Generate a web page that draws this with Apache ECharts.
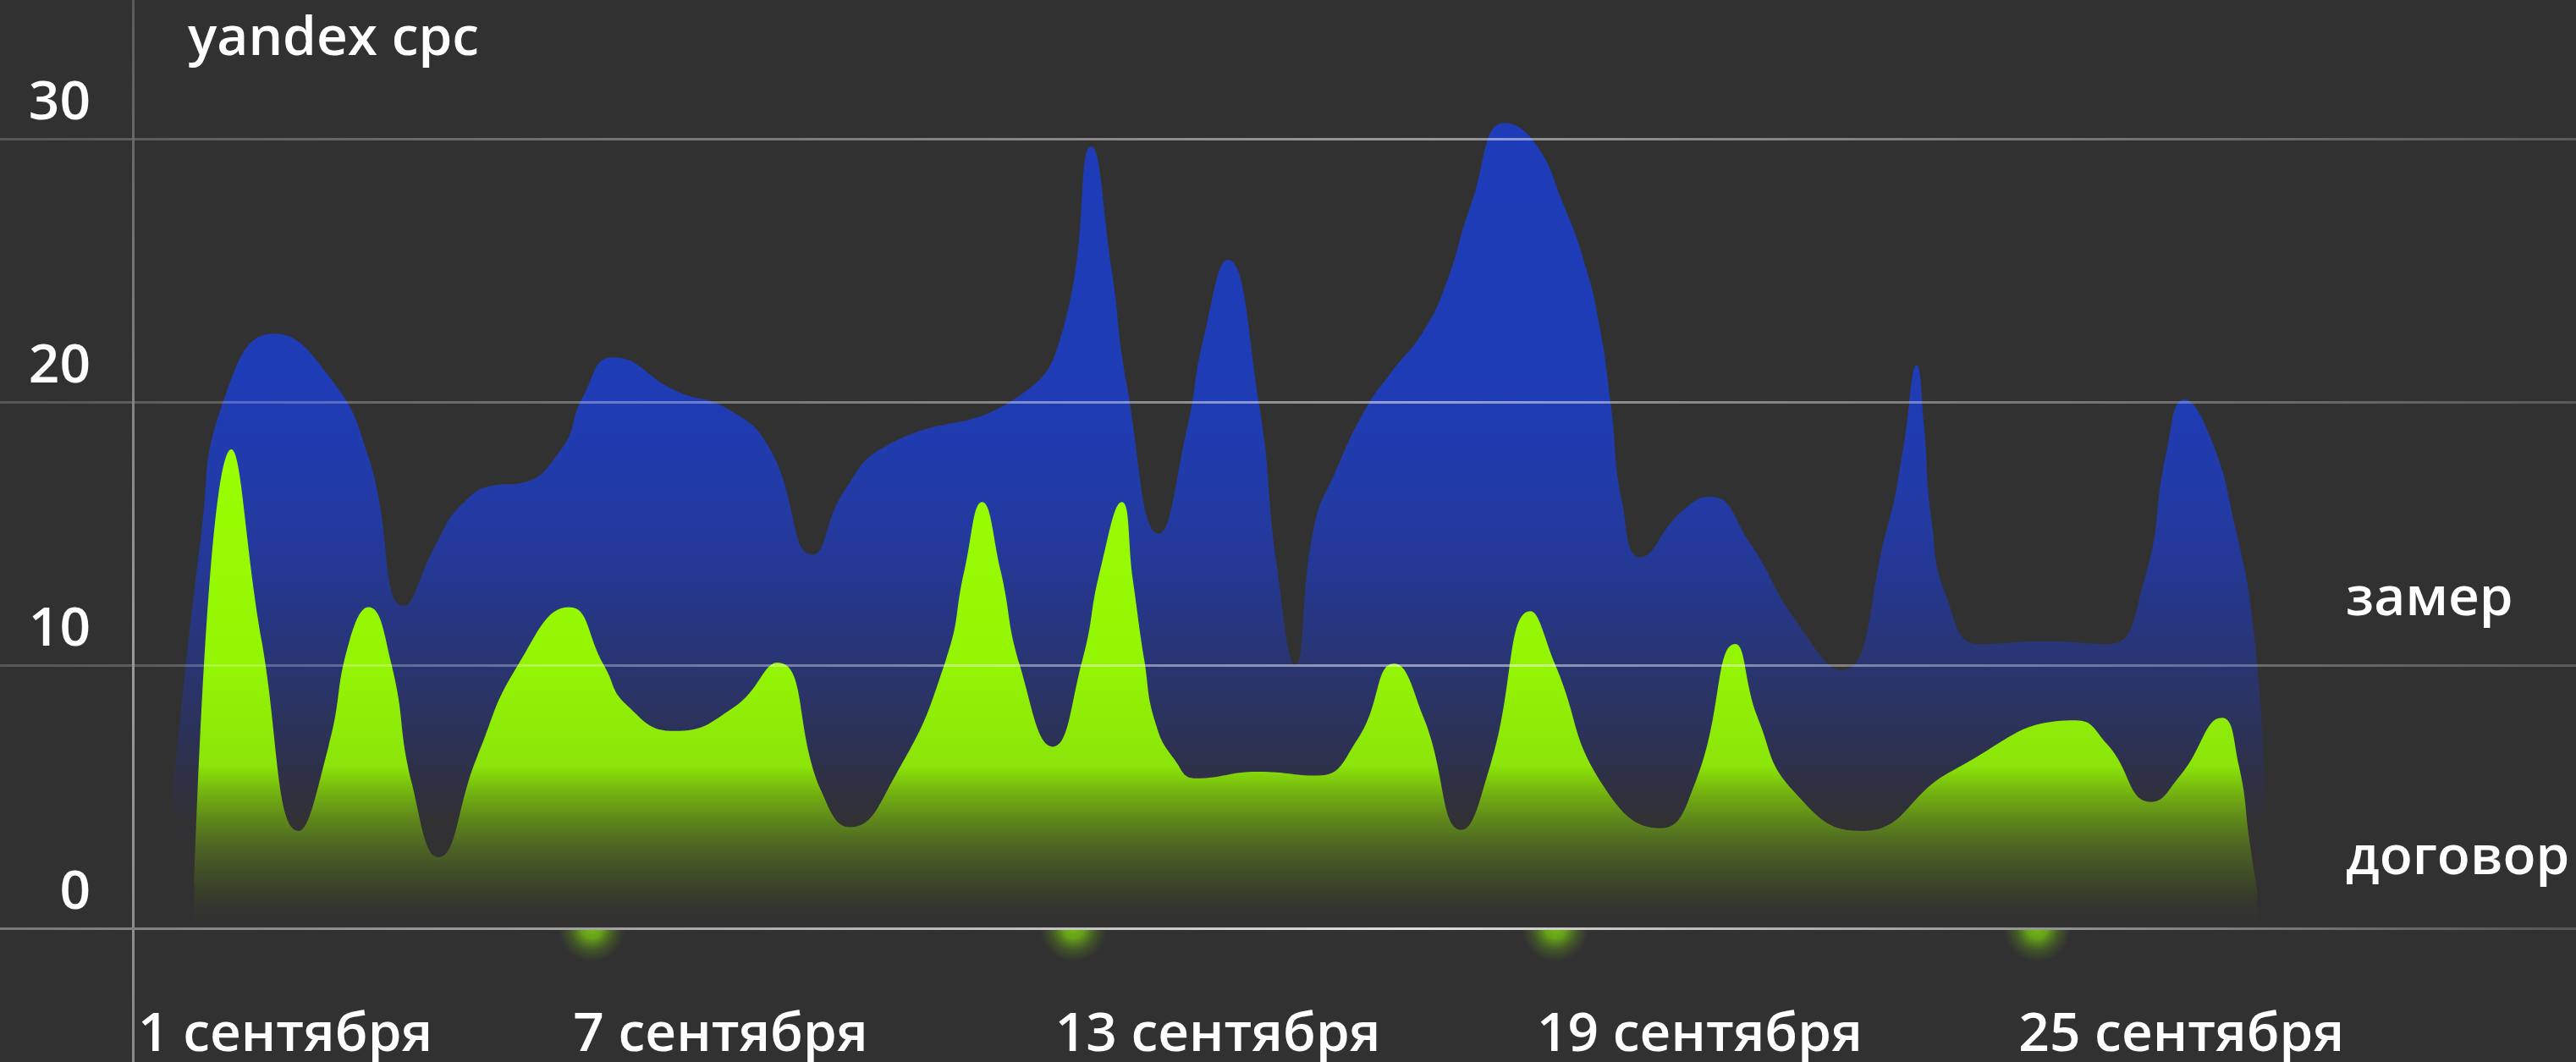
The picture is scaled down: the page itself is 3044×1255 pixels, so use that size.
<!DOCTYPE html>
<html>
<head>
<meta charset="utf-8">
<script src="https://cdn.jsdelivr.net/npm/echarts@6/dist/echarts.min.js"></script>
<style>
html,body{margin:0;padding:0;background:#313131;}
#chart{width:3044px;height:1255px;}
</style>
</head>
<body>
<div id="chart"></div>
<script>
// ---- data ----
const seriesNames = ['замер', 'договор'];
const titleText = 'yandex cpc';

// замер (blue) — x in days of September, y values
const zamerDays = [1.78, 2.13, 2.42, 3.04, 3.72, 4.22, 4.66, 5.06, 5.38, 5.82, 6.08, 6.62, 6.89, 7.26, 8.06,
  8.71, 9.22, 9.75, 10.14, 10.68, 12.31, 12.88, 13.22, 13.47, 13.66, 14.06, 14.42, 14.61, 14.92,
  15.31, 15.53, 15.76, 15.99, 16.27, 16.63, 16.95, 17.36, 17.64, 17.95, 18.37, 18.73, 19.10, 19.38, 19.56, 19.69, 19.83, 20.06,
  20.56, 20.93, 21.43, 21.97, 22.56, 23.13, 23.33, 23.50, 23.59, 23.68, 23.87, 24.28, 25.10, 25.89, 26.33,
  26.61, 26.83, 27.15, 27.47, 27.70, 27.84];
const zamerValues = [5.0, 14.8, 20.1, 22.6, 21.0, 17.9, 12.25, 14.6, 16.1, 16.85, 16.9, 18.2, 20.2, 21.7, 20.4,
  19.7, 18.2, 14.2, 16.6, 18.35, 20.2, 22.9, 29.7, 25.1, 20.7, 15.0, 19.1, 22.3, 25.4,
  19.9, 13.8, 10.0, 15.2, 17.4, 19.7, 21.1, 22.7, 24.5, 27.5, 30.6, 29.9, 27.5, 25.1, 22.7, 19.9, 16.2, 14.1,
  15.8, 16.4, 14.6, 11.8, 9.8, 15.2, 18.2, 21.4, 19.1, 15.6, 12.6, 10.8, 10.9, 10.8, 13.2,
  18.1, 20.1, 18.7, 15.2, 11.2, 5.2];

// договор (green)
const dogovorDays = [2.05, 2.51, 2.89, 3.35, 3.72, 3.98, 4.22, 4.50, 4.76, 5.09, 5.57, 6.08, 6.72, 7.15, 7.43,
  8.03, 8.77, 9.31, 9.86, 10.22, 10.78, 11.41, 11.64, 11.86, 12.09, 12.33, 12.74, 13.11, 13.33, 13.60, 13.74, 13.88, 14.02, 14.26,
  14.52, 15.30, 16.04, 16.54, 16.99, 17.36, 17.83, 18.19, 18.69, 19.00, 19.60, 20.31, 20.75, 21.24, 21.52, 21.97, 22.81, 23.95, 25.48,
  25.87, 26.42, 26.78, 27.30, 27.51, 27.65, 27.74];
const dogovorValues = [1.7, 18.2, 10.9, 3.7, 6.9, 10.9, 12.2, 10.1, 5.5, 2.7, 6.5, 10.0, 12.2, 10.0, 8.5,
  7.5, 8.4, 10.1, 5.2, 3.84, 5.8, 10.2, 13.6, 16.2, 13.6, 10.0, 6.9, 10.2, 13.6, 16.2, 13.2, 10.2, 7.8, 6.4,
  5.7, 5.95, 5.8, 7.2, 10.06, 8.0, 3.74, 6.2, 12.05, 10.0, 5.4, 3.8, 5.6, 10.8, 8.0, 5.2, 3.7, 6.0, 7.9,
  7.0, 4.8, 5.8, 8.0, 6.2, 3.2, 1.45];

// x tick labels (days) and their text
const xTickDays = [1, 7, 13, 19, 25];
const xTickLabels = ['1 сентября', '7 сентября', '13 сентября', '19 сентября', '25 сентября'];
// glowing markers on the axis
const glowDays = [7, 13, 19, 25];

// ---- chart ----
const FONT = '"Open Sans", sans-serif';
const FS = 64;
const FW = 600;
const chart = echarts.init(document.getElementById('chart'), null, {renderer: 'canvas'});

const zip = (xs, ys) => xs.map((x, i) => [x, ys[i]]);

const hGrad = (a, b, c) => new echarts.graphic.LinearGradient(0, 0, 1, 0, [
  {offset: 0, color: a}, {offset: 0.55, color: b}, {offset: 1, color: c}
]);

const option = {
  backgroundColor: '#313131',
  animation: false,
  title: {
    text: titleText,
    left: 217,
    top: 10,
    textStyle: {color: '#ffffff', fontSize: FS, fontWeight: FW, fontFamily: FONT}
  },
  legend: {
    data: seriesNames,
    orient: 'vertical',
    left: 2762,
    top: 672,
    icon: 'rect',
    itemWidth: 0,
    itemHeight: 63,
    itemGap: 242,
    selectedMode: false,
    textStyle: {color: '#ffffff', fontSize: FS, fontWeight: FW, fontFamily: FONT}
  },
  grid: [
    {left: 0, right: 0, top: 164, bottom: 158, containLabel: false, outerBoundsMode: 'none'},
    {left: 157, right: 0, top: 0, bottom: 0, containLabel: false, outerBoundsMode: 'none'}
  ],
  xAxis: [
    {
      type: 'value',
      gridIndex: 0,
      min: -0.37,
      max: 31.71,
      z: 6,
      axisLine: {
        onZero: false,
        lineStyle: {width: 3, color: hGrad('#777777', '#dddddd', '#555555')}
      },
      axisTick: {show: false},
      splitLine: {show: false},
      axisLabel: {
        customValues: xTickDays,
        align: 'left',
        margin: 95,
        color: '#ffffff',
        fontSize: FS,
        fontFamily: FONT,
        fontWeight: FW,
        formatter: function (v) {
          const i = xTickDays.indexOf(v);
          const t = i >= 0 ? xTickLabels[i] : '';
          return (i === 0 ? '{f|' : '{n|') + t + '}';
        },
        rich: {
          f: {color: '#ffffff', fontSize: FS, fontFamily: FONT, fontWeight: FW, padding: [0, 0, 0, 33]},
          n: {color: '#ffffff', fontSize: FS, fontFamily: FONT, fontWeight: FW, padding: [0, 0, 0, -22]}
        }
      }
    },
    {
      type: 'value',
      gridIndex: 1,
      show: false
    }
  ],
  yAxis: [
    {
      type: 'value',
      gridIndex: 0,
      min: 0,
      max: 30,
      interval: 10,
      offset: -157,
      z: 5,
      axisLine: {show: false, onZero: false},
      axisTick: {show: false},
      splitLine: {
        show: true,
        lineStyle: {width: 3, color: hGrad('rgba(255,255,255,0.18)', 'rgba(255,255,255,0.5)', 'rgba(255,255,255,0.2)')}
      },
      axisLabel: {
        margin: 50,
        verticalAlign: 'bottom',
        padding: [0, 0, 9, 0],
        color: '#ffffff',
        fontSize: FS,
        fontWeight: FW,
        fontFamily: FONT
      }
    },
    {
      type: 'value',
      gridIndex: 1,
      min: 0,
      max: 1,
      z: 5,
      axisLine: {
        show: true,
        onZero: false,
        lineStyle: {
          width: 3,
          color: new echarts.graphic.LinearGradient(0, 0, 0, 1, [
            {offset: 0, color: '#5a5a5a'}, {offset: 0.6, color: '#9a9a9a'}, {offset: 1, color: '#888888'}
          ])
        }
      },
      axisTick: {show: false},
      axisLabel: {show: false},
      splitLine: {show: false}
    }
  ],
  series: [
    {
      name: 'glow',
      type: 'scatter',
      silent: true,
      clip: false,
      z: 1,
      xAxisIndex: 0,
      yAxisIndex: 0,
      data: glowDays.map(d => [d, 0]),
      symbol: 'circle',
      symbolSize: 80,
      itemStyle: {
        color: new echarts.graphic.RadialGradient(0.5, 0.5, 0.5, [
          {offset: 0, color: 'rgba(132,220,12,1)'},
          {offset: 0.3, color: 'rgba(124,208,14,0.88)'},
          {offset: 0.65, color: 'rgba(105,170,20,0.38)'},
          {offset: 1, color: 'rgba(90,140,30,0)'}
        ])
      }
    },
    {
      name: seriesNames[0],
      type: 'line',
      smooth: 0.5,
      showSymbol: false,
      silent: true,
      clip: false,
      z: 2,
      xAxisIndex: 0,
      yAxisIndex: 0,
      data: zip(zamerDays, zamerValues),
      itemStyle: {color: '#1f3cb7'},
      lineStyle: {width: 0},
      areaStyle: {
        opacity: 1,
        color: new echarts.graphic.LinearGradient(0, 0, 0, 1, [
          {offset: 0, color: '#1f3cb8'},
          {offset: 0.314, color: '#1f3cb7'},
          {offset: 0.444, color: '#213ba9'},
          {offset: 0.542, color: '#243897'},
          {offset: 0.673, color: '#293571'},
          {offset: 0.765, color: '#2c3256'},
          {offset: 0.83, color: '#303040'},
          {offset: 0.87, color: '#313133'},
          {offset: 1, color: '#313131'}
        ])
      }
    },
    {
      name: seriesNames[1],
      type: 'line',
      smooth: 0.5,
      showSymbol: false,
      silent: true,
      clip: false,
      z: 3,
      xAxisIndex: 0,
      yAxisIndex: 0,
      data: zip(dogovorDays, dogovorValues),
      itemStyle: {color: '#96f800'},
      lineStyle: {width: 0},
      areaStyle: {
        opacity: 1,
        color: new echarts.graphic.LinearGradient(0, 0, 0, 1, [
          {offset: 0, color: '#9aff00'},
          {offset: 0.45, color: '#94f503'},
          {offset: 0.66, color: '#8be50a'},
          {offset: 0.71, color: '#77b80f'},
          {offset: 0.77, color: '#5f8a1a'},
          {offset: 0.83, color: '#4d6424'},
          {offset: 0.89, color: '#3f4b28'},
          {offset: 0.93, color: '#383d2b'},
          {offset: 0.96, color: '#333530'},
          {offset: 1, color: '#313131'}
        ])
      }
    }
  ]
};
chart.setOption(option);
</script>
</body>
</html>
